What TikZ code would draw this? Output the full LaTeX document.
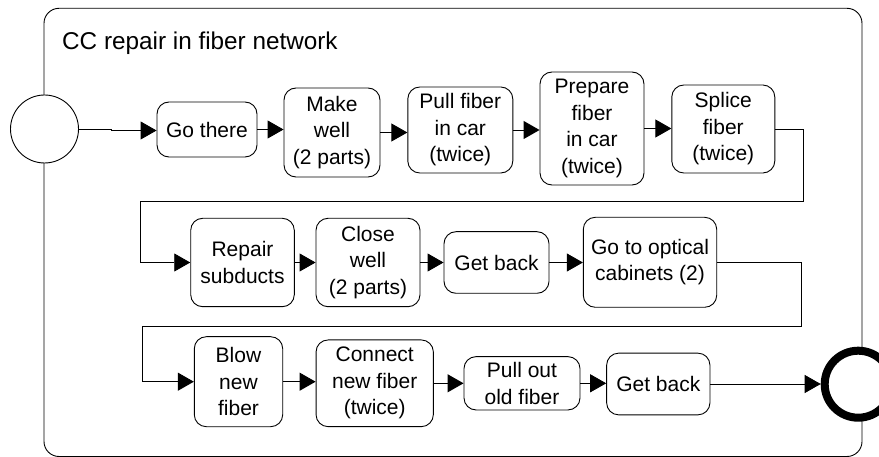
\documentclass[tikz,border=0pt]{standalone}
\usepackage{fontspec}
\setmainfont{Liberation Sans}
\usetikzlibrary{arrows.meta}
\begin{document}
\begin{tikzpicture}[x=1pt,y=-1pt,
  task/.style={draw, line width=0.9pt, rounded corners=12pt, align=center, inner sep=0pt,
    font=\fontsize{21}{26.5}\selectfont},
  arr/.style={draw, line width=0.9pt, -{Triangle[length=16pt,width=18pt]}},
  plain/.style={draw, line width=0.9pt}]
\useasboundingbox (0,0) rectangle (879,457);
% container
\draw[line width=0.9pt, rounded corners=15pt] (44,8.3) rectangle (862,456.5);
\node[anchor=base west, inner sep=0pt, font=\fontsize{24.3}{28}\selectfont] (title) at (62,50) {CC repair in fiber network};
% events
\node[circle, draw, fill=white, line width=0.9pt, minimum size=68pt, inner sep=0pt] (start) at (44.5,129) {};
\node[circle, draw, fill=white, line width=8pt, minimum size=67pt, inner sep=0pt] (end) at (858.2,384.2) {};
% row 1
\node[task, minimum width=100pt, minimum height=55pt] (gothere) at (207,129.5) {Go there};
\node[task, minimum width=96pt, minimum height=89pt] (makewell) at (332,132.5) {Make\\well\\(2 parts)};
\node[task, minimum width=105pt, minimum height=86pt] (pullfiber) at (460.3,130) {Pull fiber\\in car\\(twice)};
\node[task, minimum width=104pt, minimum height=113pt] (prepare) at (592,128.5) {Prepare\\fiber\\in car\\(twice)};
\node[task, minimum width=103pt, minimum height=88pt] (splice) at (723.3,129) {Splice\\fiber\\(twice)};
% row 2
\node[task, minimum width=103.6pt, minimum height=88.4pt] (repair) at (242.5,262.5) {Repair\\subducts};
\node[task, minimum width=104pt, minimum height=88.4pt] (closewell) at (368,262.5) {Close\\well\\(2 parts)};
\node[task, minimum width=105pt, minimum height=61.6pt] (getbackA) at (496.5,262.5) {Get back};
\node[task, minimum width=133.4pt, minimum height=90pt] (optical) at (650,262.3) {Go to optical\\cabinets (2)};
% row 3
\node[task, minimum width=88.4pt, minimum height=90pt] (blow) at (238.5,381.7) {Blow\\new\\fiber};
\node[task, minimum width=117.3pt, minimum height=86.7pt] (connect) at (374.7,383.3) {Connect\\new fiber\\(twice)};
\node[task, minimum width=116pt, minimum height=53.3pt] (pullout) at (522,383.3) {Pull out\\old fiber};
\node[task, minimum width=103.3pt, minimum height=61.7pt] (getbackB) at (658.3,384) {Get back};
% waypoints
\coordinate (j1) at (111,129);
\coordinate (j2) at (111,130.5);
\coordinate (c1) at (803.3,201.7);
\coordinate (c2) at (140.7,201.7);
\coordinate (c3) at (801.7,326);
\coordinate (c4) at (142.7,326);
% connectors
\draw[arr] (start.east) -- (j1) -- (j2) -- (gothere.west |- j2);
\draw[arr] (gothere.east) -- (makewell.west |- gothere.east);
\draw[arr] (makewell.east) -- (pullfiber.west |- makewell.east);
\draw[arr] (pullfiber.east) -- (prepare.west |- pullfiber.east);
\draw[arr] (prepare.east) -- (splice.west |- prepare.east);
\draw[arr] (splice.east) -| (c1) -- (c2) |- (repair.west);
\draw[arr] (repair.east) -- (closewell.west |- repair.east);
\draw[arr] (closewell.east) -- (getbackA.west |- closewell.east);
\draw[arr] (getbackA.east) -- (optical.west |- getbackA.east);
\draw[arr] (optical.east) -| (c3) -- (c4) |- (blow.west);
\draw[arr] (blow.east) -- (connect.west |- blow.east);
\draw[arr] (connect.east) -- (pullout.west |- connect.east);
\draw[arr] (pullout.east) -- (getbackB.west |- pullout.east);
\draw[arr] (getbackB.east) -- (end.west |- getbackB.east);
\end{tikzpicture}
\end{document}
